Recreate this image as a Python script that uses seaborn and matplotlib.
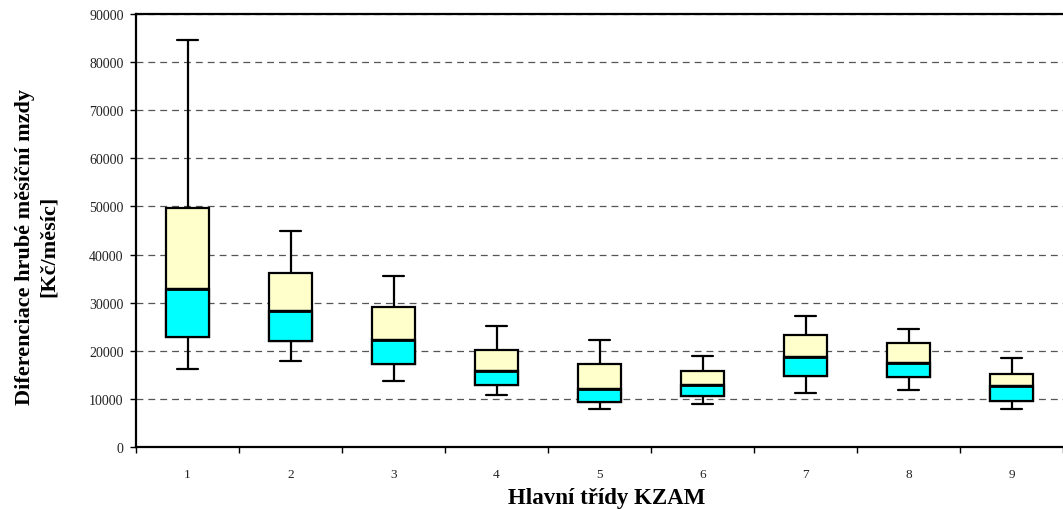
import matplotlib
matplotlib.use("Agg")
import matplotlib.pyplot as plt
import numpy as np
import pandas as pd
import seaborn as sns

# ── Data: box statistics per KZAM class ──────────────────────────────────────
categories = ["1", "2", "3", "4", "5", "6", "7", "8", "9"]
whisker_low = [16200, 17900, 13800, 10900, 8000, 8900, 11300, 11800, 8000]
q1 = [22900, 22100, 17200, 12900, 9300, 10500, 14700, 14600, 9600]
median = [32800, 28300, 22200, 15800, 12050, 12900, 18700, 17500, 12600]
q3 = [49600, 36200, 29200, 20200, 17200, 15900, 23350, 21700, 15100]
whisker_high = [84500, 44900, 35500, 25100, 22200, 18850, 27200, 24600, 18400]

# five points per class reproduce exactly the quartiles and extremes
full = pd.DataFrame({
    "cls": np.repeat(categories, 5),
    "val": np.column_stack([whisker_low, q1, median, q3, whisker_high]).ravel(),
})
# lower half (Q1 .. median) drawn on top in cyan
lower = pd.DataFrame({
    "cls": np.repeat(categories, 5),
    "val": np.column_stack([q1, q1, median, median, median]).ravel(),
})

sns.set_theme(style="white")
plt.rcParams["font.family"] = ["Liberation Serif", "DejaVu Serif"]

fig = plt.figure(figsize=(10.63, 5.10), dpi=100)
ax = fig.add_axes([136 / 1063, 1 - 448 / 510, 1 - 136 / 1063, (448 - 15) / 510])

line_kw = dict(color="black", linewidth=1.6)
sns.boxplot(
    data=full, x="cls", y="val", order=categories, ax=ax,
    whis=(0, 100), width=0.41, color="#FFFFCC", saturation=1,
    linecolor="black", linewidth=1.6, showfliers=False,
    boxprops=dict(facecolor="#FFFFCC", edgecolor="black", linewidth=1.6),
    whiskerprops=line_kw, capprops=line_kw, medianprops=line_kw,
    zorder=3,
)
sns.boxplot(
    data=lower, x="cls", y="val", order=categories, ax=ax,
    whis=(0, 100), width=0.41, color="#00FFFF", saturation=1,
    linecolor="black", linewidth=1.6, showfliers=False, showcaps=False,
    boxprops=dict(facecolor="#00FFFF", edgecolor="black", linewidth=1.6),
    whiskerprops=dict(linewidth=0), medianprops=dict(color="black", linewidth=2.0),
    zorder=4,
)

ax.set_xlim(-0.5, len(categories) - 0.5)
ax.set_ylim(0, 90000)
ax.set_yticks(np.arange(0, 90001, 10000))
ax.yaxis.grid(True, linestyle=(0, (5.5, 4)), color="#555555", linewidth=0.9)
ax.xaxis.grid(False)
ax.set_axisbelow(True)

# category boundaries get the tick marks, labels sit between them
ax.set_xticks(np.arange(-0.5, len(categories), 1.0), minor=True)
ax.set_xticks(np.arange(len(categories)))
ax.set_xticklabels(categories)
ax.tick_params(axis="x", which="major", length=0, pad=15, labelsize=9.5,
               labelcolor="#222222")
ax.tick_params(axis="x", which="minor", length=4, width=1, color="black",
               direction="out", bottom=True)
ax.tick_params(axis="y", length=4, width=1, color="black", direction="out",
               left=True, labelsize=10, labelcolor="#222222", pad=5)

for side in ["top", "left", "bottom"]:
    ax.spines[side].set_color("black")
    ax.spines[side].set_linewidth(1.6)
ax.spines["right"].set_visible(False)

ax.set_xlabel("Hlavní třídy KZAM", fontsize=16.5, fontweight="bold", color="black")
ax.xaxis.set_label_coords(0.508, -0.093)
ax.set_ylabel("Diferenciace hrubé měsíční mzdy\n[Kč/měsíc]", fontsize=16,
              fontweight="bold", linespacing=1.25, color="black")
ax.yaxis.set_label_coords(-0.083, 0.465)

fig.savefig("out.png", dpi=100)
